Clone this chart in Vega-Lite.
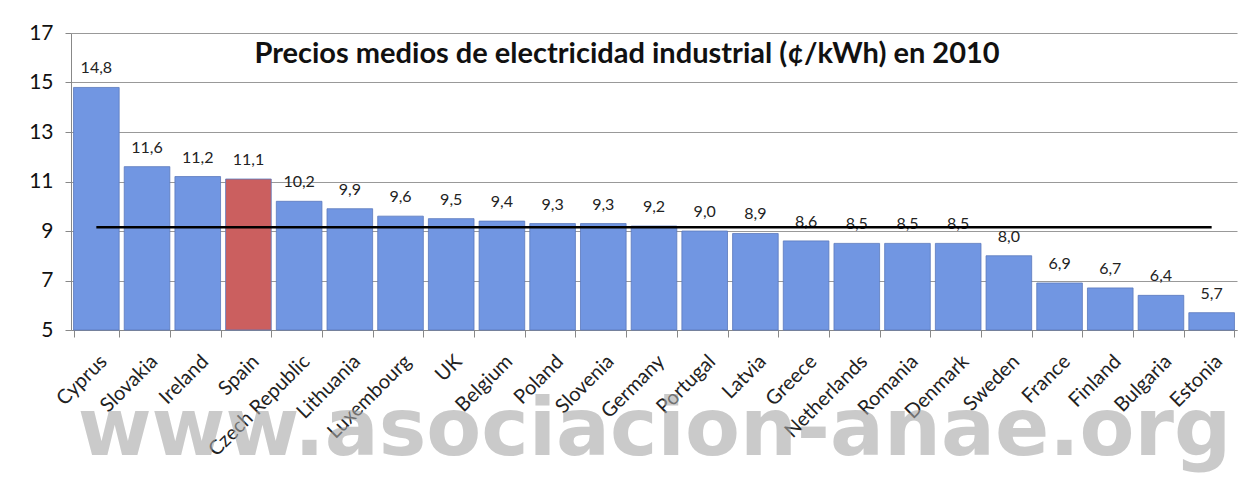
{
  "$schema": "https://vega.github.io/schema/vega-lite/v6.json",
  "width": 1166,
  "height": 297,
  "autosize": {"type": "none"},
  "padding": {"left": 71, "top": 33, "right": 11, "bottom": 151},
  "background": "white",
  "config": {
    "view": {"stroke": null},
    "locale": {"number": {"decimal": ",", "thousands": ".", "grouping": [3], "currency": ["", " €"]}},
    "font": "Lato"
  },
  "title": {
    "text": "Precios medios de electricidad  industrial (¢/kWh) en 2010",
    "font": "Lato",
    "fontSize": 29,
    "fontWeight": "bold",
    "color": "#111111",
    "anchor": "middle",
    "dx": -27,
    "offset": -47
  },
  "data": {
    "values": [
      {"country": "Cyprus", "price": 14.8, "avg": 9.15, "highlight": "no"},
      {"country": "Slovakia", "price": 11.6, "avg": 9.15, "highlight": "no"},
      {"country": "Ireland", "price": 11.2, "avg": 9.15, "highlight": "no"},
      {"country": "Spain", "price": 11.1, "avg": 9.15, "highlight": "yes"},
      {"country": "Czech Republic", "price": 10.2, "avg": 9.15, "highlight": "no"},
      {"country": "Lithuania", "price": 9.9, "avg": 9.15, "highlight": "no"},
      {"country": "Luxembourg", "price": 9.6, "avg": 9.15, "highlight": "no"},
      {"country": "UK", "price": 9.5, "avg": 9.15, "highlight": "no"},
      {"country": "Belgium", "price": 9.4, "avg": 9.15, "highlight": "no"},
      {"country": "Poland", "price": 9.3, "avg": 9.15, "highlight": "no"},
      {"country": "Slovenia", "price": 9.3, "avg": 9.15, "highlight": "no"},
      {"country": "Germany", "price": 9.2, "avg": 9.15, "highlight": "no"},
      {"country": "Portugal", "price": 9.0, "avg": 9.15, "highlight": "no"},
      {"country": "Latvia", "price": 8.9, "avg": 9.15, "highlight": "no"},
      {"country": "Greece", "price": 8.6, "avg": 9.15, "highlight": "no"},
      {"country": "Netherlands", "price": 8.5, "avg": 9.15, "highlight": "no"},
      {"country": "Romania", "price": 8.5, "avg": 9.15, "highlight": "no"},
      {"country": "Denmark", "price": 8.5, "avg": 9.15, "highlight": "no"},
      {"country": "Sweden", "price": 8.0, "avg": 9.15, "highlight": "no"},
      {"country": "France", "price": 6.9, "avg": 9.15, "highlight": "no"},
      {"country": "Finland", "price": 6.7, "avg": 9.15, "highlight": "no"},
      {"country": "Bulgaria", "price": 6.4, "avg": 9.15, "highlight": "no"},
      {"country": "Estonia", "price": 5.7, "avg": 9.15, "highlight": "no"}
    ]
  },
  "encoding": {
    "x": {
      "field": "country",
      "type": "nominal",
      "sort": null,
      "scale": {"paddingInner": 0.1, "paddingOuter": 0.05},
      "axis": {
        "title": "www.asociacion-anae.org",
        "titleFont": "DejaVu Sans",
        "titleFontSize": 80,
        "titleFontWeight": "bold",
        "titleColor": "#a6a6a6",
        "titleOpacity": 0.6,
        "titlePadding": -68,
        "titleAnchor": "middle",
        "labelAngle": -45,
        "labelFont": "Lato",
        "labelFontSize": 20,
        "labelColor": "#222222",
        "labelPadding": 14,
        "tickBand": "extent",
        "tickSize": 7,
        "tickColor": "#888888",
        "domainColor": "#888888",
        "grid": false
      }
    }
  },
  "layer": [
    {
      "mark": {"type": "bar", "stroke": "#5a78bd", "strokeWidth": 0.8},
      "encoding": {
        "y": {
          "field": "price",
          "type": "quantitative",
          "scale": {"domain": [5, 17], "zero": false, "nice": false},
          "axis": {
            "title": null,
            "values": [5, 7, 9, 11, 13, 15, 17],
            "labelOverlap": false,
            "labelFont": "Lato",
            "labelFontSize": 21,
            "labelColor": "#111111",
            "labelPadding": 12,
            "tickSize": 6,
            "tickColor": "#888888",
            "domainColor": "#888888",
            "gridColor": "#999999",
            "gridWidth": 1
          }
        },
        "y2": {"datum": 5},
        "color": {
          "field": "highlight",
          "type": "nominal",
          "scale": {"domain": ["no", "yes"], "range": ["#7196e2", "#cb5f5f"]},
          "legend": null
        }
      }
    },
    {
      "mark": {"type": "text", "baseline": "bottom", "dy": -11, "fontSize": 16, "font": "Lato", "color": "#222222"},
      "encoding": {
        "y": {"field": "price", "type": "quantitative"},
        "text": {"field": "price", "type": "quantitative", "format": ".1f"}
      }
    },
    {
      "mark": {"type": "line", "color": "#000000", "strokeWidth": 2.5},
      "encoding": {
        "y": {"field": "avg", "type": "quantitative"}
      }
    }
  ]
}
